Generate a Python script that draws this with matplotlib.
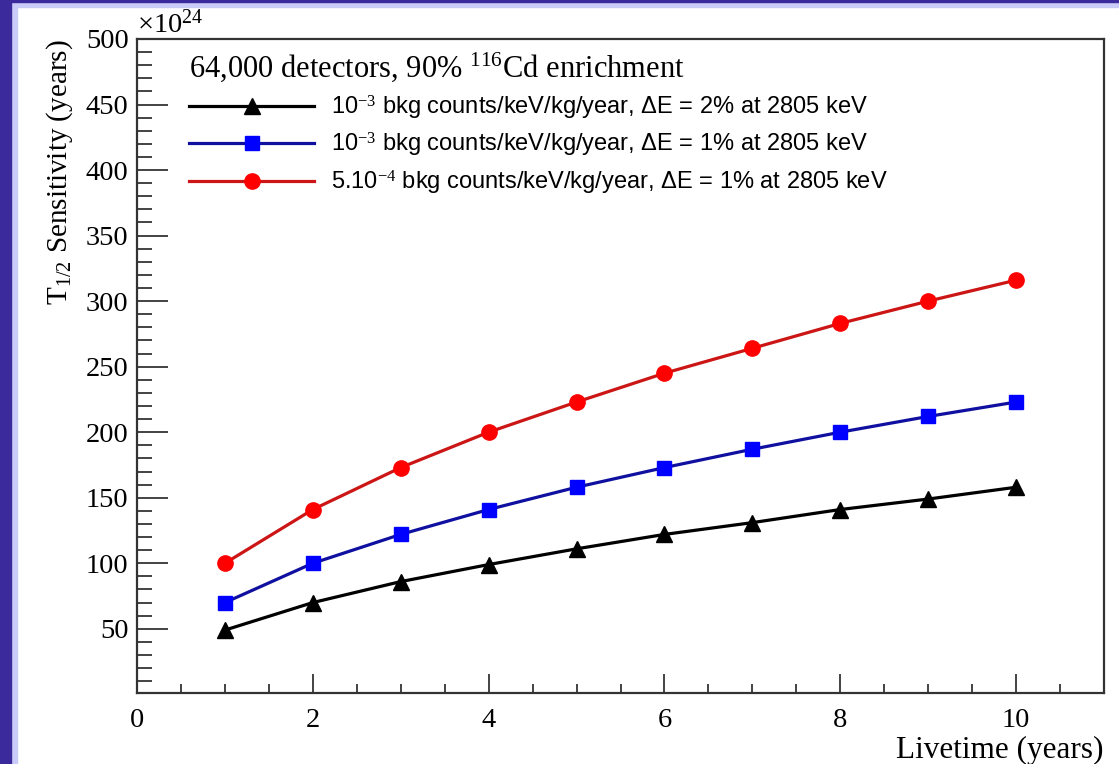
import numpy as np
import matplotlib
matplotlib.use("Agg")
import matplotlib.pyplot as plt
from matplotlib.patches import Rectangle
from matplotlib.ticker import MultipleLocator, FixedLocator

plt.rcParams['mathtext.fontset'] = 'custom'
plt.rcParams['mathtext.rm'] = 'Liberation Serif'
plt.rcParams['mathtext.it'] = 'Liberation Serif:italic'

# livetime in years
livetime = [1, 2, 3, 4, 5, 6, 7, 8, 9, 10]
# T1/2 sensitivity in units of 1e24 years
sens_2pct = [49, 70, 86, 99, 111, 122, 131, 141, 149, 158]
sens_1pct = [70, 100, 122, 141, 158, 173, 187, 200, 212, 223]
sens_low_bkg = [100, 141, 173, 200, 223, 245, 264, 283, 300, 316]

labels = [r"10$^{-3}$ bkg counts/keV/kg/year, ΔE = 2% at 2805 keV",
          r"10$^{-3}$ bkg counts/keV/kg/year, ΔE = 1% at 2805 keV",
          r"5.10$^{-4}$ bkg counts/keV/kg/year, ΔE = 1% at 2805 keV"]
title = r"64,000 detectors, 90% $^{116}$Cd enrichment"

serif = "Liberation Serif"
sans = "Liberation Sans"

fig = plt.figure(figsize=(11.19, 7.64), dpi=100)
fig.patch.set_facecolor("white")

# slide background strips
fig.patches.append(Rectangle((0, 0), 17 / 1119, 1, transform=fig.transFigure,
                             color="#cbcbf9", zorder=0))
fig.patches.append(Rectangle((0, 1 - 7 / 764), 1, 7 / 764, transform=fig.transFigure,
                             color="#cbcbf9", zorder=0))
fig.patches.append(Rectangle((0, 0), 11 / 1119, 1, transform=fig.transFigure,
                             color="#3a2a9c", zorder=0))
fig.patches.append(Rectangle((0, 1 - 1.5 / 764), 1, 1.5 / 764, transform=fig.transFigure,
                             color="#3a2a9c", zorder=0))

ax = fig.add_axes([137 / 1119, 1 - 693 / 764, (1104 - 137) / 1119, (693 - 39) / 764])
ax.set_facecolor("white")

ax.plot(livetime, sens_2pct, color="black", lw=2.3, marker="^", ms=11,
        mfc="black", mec="black", label=labels[0])
ax.plot(livetime, sens_1pct, color="#1010a0", lw=2.3, marker="s", ms=10,
        mfc="#0000ff", mec="#0000ff", label=labels[1])
ax.plot(livetime, sens_low_bkg, color="#cc1515", lw=2.3, marker="o", ms=11,
        mfc="#ff0000", mec="#ff0000", label=labels[2])

ax.set_xlim(0, 11)
ax.set_ylim(1, 500)
ax.xaxis.set_major_locator(MultipleLocator(2))
ax.xaxis.set_minor_locator(MultipleLocator(0.5))
ax.yaxis.set_major_locator(FixedLocator(np.arange(50, 501, 50)))
ax.yaxis.set_minor_locator(FixedLocator(np.arange(10, 501, 10)))

ax.tick_params(axis="both", which="both", direction="in", top=False, right=False,
               width=1.2, color="#222222")
ax.tick_params(axis="y", which="major", length=22, pad=6)
ax.tick_params(axis="y", which="minor", length=11)
ax.tick_params(axis="x", which="major", length=14, pad=11)
ax.tick_params(axis="x", which="minor", length=6.5)
for lab in ax.get_xticklabels() + ax.get_yticklabels():
    lab.set_fontfamily(serif)
    lab.set_fontsize(20.5)
for sp in ax.spines.values():
    sp.set_linewidth(1.6)
    sp.set_color("#333333")

ax.set_xlabel("Livetime (years)", fontfamily=serif, fontsize=22.5, loc="right", labelpad=2)
ax.set_ylabel(r"T$_{1/2}$ Sensitivity (years)", fontfamily=serif, fontsize=21,
              loc="top", labelpad=8)
ax.text(0.0, 1.0, r"$\times$10$^{24}$", transform=ax.transAxes, fontfamily=serif,
        fontsize=20.5, ha="left", va="bottom")

leg = ax.legend(loc="upper left", bbox_to_anchor=(0.044, 0.997), frameon=False,
                prop={"family": sans, "size": 17}, handlelength=5.3,
                handletextpad=0.7, labelspacing=0.4, title=title,
                title_fontproperties={"family": serif, "size": 22},
                alignment="left", borderaxespad=0)

fig.savefig("out.png", dpi=100, facecolor=fig.get_facecolor())
